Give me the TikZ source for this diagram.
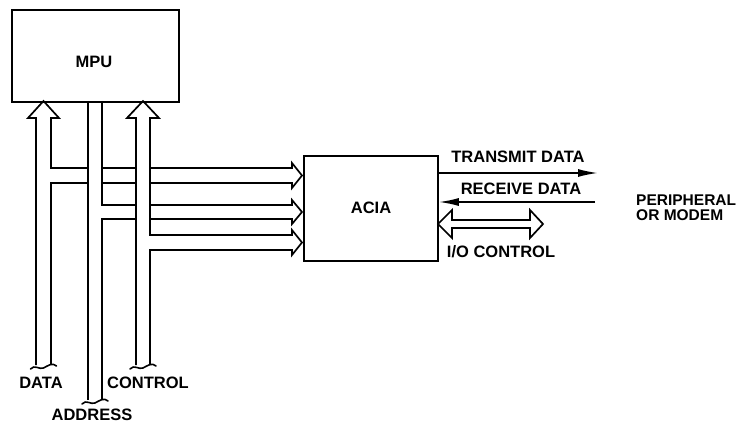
\documentclass[tikz,border=0pt]{standalone}
\usepackage{fontspec}
\setmainfont{Liberation Sans}
\usetikzlibrary{arrows.meta}
\begin{document}
\begin{tikzpicture}[x=1pt,y=-1pt,
  lbl/.style={font=\fontsize{16.5}{15}\selectfont\bfseries, inner sep=0pt},
  box/.style={draw, line width=1.8pt, inner sep=0pt},
  bus/.style={line width=1.7pt, line join=miter},
  brk/.style={line width=1.6pt, line join=round, line cap=round},
  sig/.style={line width=1.7pt, -{Latex[length=20pt,width=8pt]}}]
\useasboundingbox (0,0) rectangle (746,425);
% blocks
\node[box, minimum width=167pt, minimum height=92pt, anchor=north west] (MPU) at (11,9) {};
\node[box, minimum width=134pt, minimum height=105pt, anchor=north west] (ACIA) at (303,155) {};
\node[lbl] (mpul) at (94,62) {MPU};
\node[lbl] (acial) at (371,208) {ACIA};
% data bus
\draw[bus] (36,365) -- (36,118) -- (28,118) -- (43.5,101) -- (59,118) -- (51,118) -- (51,168) -- (88,168);
\draw[bus] (102,168) -- (136,168);
\draw[bus] (150,168) -- (292,168) -- (292,163) -- (302,175.5) -- (292,188) -- (292,183) -- (150,183);
\draw[bus] (136,183) -- (102,183);
\draw[bus] (88,183) -- (51,183) -- (51,365);
% address bus
\draw[bus] (88,101) -- (88,400);
\draw[bus] (102,101) -- (102,205) -- (136,205);
\draw[bus] (150,205) -- (292,205) -- (292,200) -- (302,212) -- (292,224) -- (292,219) -- (150,219);
\draw[bus] (136,219) -- (102,219) -- (102,400);
% control bus
\draw[bus] (136,365) -- (136,118) -- (127,118) -- (143,101) -- (159,118) -- (150,118) -- (150,235) -- (292,235) -- (292,230) -- (302,242.5) -- (292,255) -- (292,250) -- (150,250) -- (150,365);
% break marks
\foreach \c/\y in {43.5/365, 143/365, 95/400}{
  \draw[brk] (\c-13,\y+4) .. controls (\c-9,\y-1) and (\c-4,\y+5) .. (\c,\y+3) .. controls (\c+4,\y+1) and (\c+9,\y-3) .. (\c+13,\y+1);
}
% right side
\coordinate (tx) at (598,173);
\coordinate (rx) at (595,202);
\draw[sig] (ACIA.east |- tx) -- (tx);
\draw[sig] (rx) -- (ACIA.east |- rx);
\draw[bus] (438,224) -- (452,210) -- (452,220) -- (530,220) -- (530,210) -- (543,224) -- (530,238) -- (530,228) -- (452,228) -- (452,238) -- cycle;
% labels
\node[lbl] (txl) at (518,157) {TRANSMIT DATA};
\node[lbl] (rxl) at (521,189) {RECEIVE DATA};
\node[lbl] (iol) at (501,252) {I/O CONTROL};
\node[lbl, align=left, anchor=west, font=\fontsize{15.5}{15}\selectfont\bfseries] (perl) at (636,207.5) {PERIPHERAL\\OR MODEM};
\node[lbl] (datal) at (41,383) {DATA};
\node[lbl] (ctrll) at (148,383) {CONTROL};
\node[lbl] (addrl) at (92,415) {ADDRESS};
\end{tikzpicture}
\end{document}
